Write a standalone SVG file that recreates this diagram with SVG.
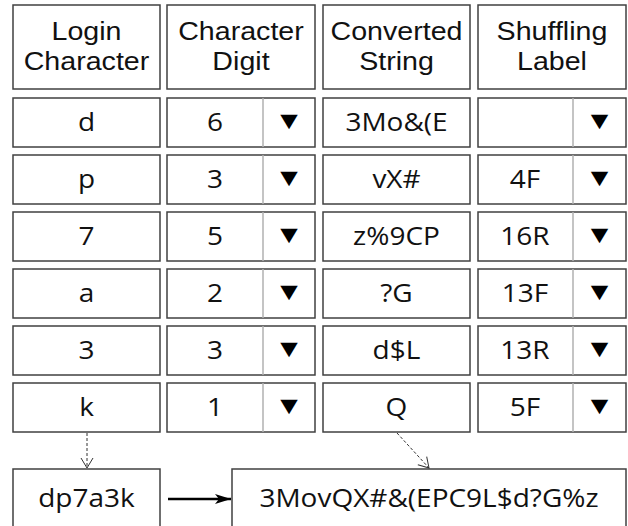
<svg xmlns="http://www.w3.org/2000/svg" width="628" height="526" viewBox="0 0 628 526">
<defs>
<style>
.box{fill:#fff;stroke:#404040;stroke-width:1.5}
.div{stroke:#b0b0b0;stroke-width:1.5}
.hd{font-family:"Liberation Sans",Arial,sans-serif;font-size:26px;fill:#111;text-anchor:middle;transform-box:fill-box;transform-origin:center;transform:scaleX(1.1)}
.tx{font-family:"Open Sans","Noto Sans",sans-serif;font-size:25px;fill:#111;text-anchor:middle;transform-box:fill-box;transform-origin:center;transform:scaleX(1.12)}
.tri{font-family:"DejaVu Sans",sans-serif;font-size:19px;fill:#000;text-anchor:middle;transform-box:fill-box;transform-origin:center;transform:scaleX(1.2)}
.dash{stroke:#333;stroke-width:1;stroke-dasharray:3 2;fill:none}
</style>
<marker id="open" viewBox="0 0 12 14" refX="11" refY="7" markerWidth="12" markerHeight="14" markerUnits="userSpaceOnUse" orient="auto">
<path d="M1,1 L11,7 L1,13" fill="none" stroke="#333" stroke-width="1"/>
</marker>
<marker id="solid" viewBox="0 0 16 10" refX="16" refY="5" markerWidth="16" markerHeight="10" markerUnits="userSpaceOnUse" orient="auto">
<path d="M0,0 L16,5 L0,10 L4,5 Z" fill="#000"/>
</marker>
</defs>
<rect width="628" height="526" fill="#fff"/>
<g id="headers">
<g id="h-login"><rect class="box" x="13" y="5" width="147" height="84"/><text class="hd" x="86.5" y="40">Login</text><text class="hd" x="86.5" y="70">Character</text></g>
<g id="h-digit"><rect class="box" x="167" y="5" width="148" height="84"/><text class="hd" x="241" y="40">Character</text><text class="hd" x="241" y="70">Digit</text></g>
<g id="h-conv"><rect class="box" x="323" y="5" width="147" height="84"/><text class="hd" x="396.5" y="40">Converted</text><text class="hd" x="396.5" y="70">String</text></g>
<g id="h-shuf"><rect class="box" x="478" y="5" width="148" height="84"/><text class="hd" x="552" y="40">Shuffling</text><text class="hd" x="552" y="70">Label</text></g>
</g>
<g id="row1">
<g id="login1"><rect class="box" x="13" y="98" width="147" height="49"/><text class="tx" x="86.5" y="131">d</text></g>
<g id="digit1"><rect class="box" x="167" y="98" width="148" height="49"/><line class="div" x1="263" y1="98" x2="263" y2="147"/><text class="tx" x="215" y="131">6</text><text class="tri" x="289" y="127.5">▼</text></g>
<g id="conv1"><rect class="box" x="323" y="98" width="147" height="49"/><text class="tx" x="396.5" y="131">3Mo&amp;(E</text></g>
<g id="shuf1"><rect class="box" x="478" y="98" width="148" height="49"/><line class="div" x1="573" y1="98" x2="573" y2="147"/><text class="tri" x="599.5" y="127.5">▼</text></g>
</g>
<g id="row2">
<g id="login2"><rect class="box" x="13" y="155" width="147" height="49"/><text class="tx" x="86.5" y="188">p</text></g>
<g id="digit2"><rect class="box" x="167" y="155" width="148" height="49"/><line class="div" x1="263" y1="155" x2="263" y2="204"/><text class="tx" x="215" y="188">3</text><text class="tri" x="289" y="184.5">▼</text></g>
<g id="conv2"><rect class="box" x="323" y="155" width="147" height="49"/><text class="tx" x="396.5" y="188">vX#</text></g>
<g id="shuf2"><rect class="box" x="478" y="155" width="148" height="49"/><line class="div" x1="573" y1="155" x2="573" y2="204"/><text class="tx" x="525" y="188">4F</text><text class="tri" x="599.5" y="184.5">▼</text></g>
</g>
<g id="row3">
<g id="login3"><rect class="box" x="13" y="212" width="147" height="49"/><text class="tx" x="86.5" y="245">7</text></g>
<g id="digit3"><rect class="box" x="167" y="212" width="148" height="49"/><line class="div" x1="263" y1="212" x2="263" y2="261"/><text class="tx" x="215" y="245">5</text><text class="tri" x="289" y="241.5">▼</text></g>
<g id="conv3"><rect class="box" x="323" y="212" width="147" height="49"/><text class="tx" x="396.5" y="245">z%9CP</text></g>
<g id="shuf3"><rect class="box" x="478" y="212" width="148" height="49"/><line class="div" x1="573" y1="212" x2="573" y2="261"/><text class="tx" x="525" y="245">16R</text><text class="tri" x="599.5" y="241.5">▼</text></g>
</g>
<g id="row4">
<g id="login4"><rect class="box" x="13" y="269" width="147" height="49"/><text class="tx" x="86.5" y="302">a</text></g>
<g id="digit4"><rect class="box" x="167" y="269" width="148" height="49"/><line class="div" x1="263" y1="269" x2="263" y2="318"/><text class="tx" x="215" y="302">2</text><text class="tri" x="289" y="298.5">▼</text></g>
<g id="conv4"><rect class="box" x="323" y="269" width="147" height="49"/><text class="tx" x="396.5" y="302">?G</text></g>
<g id="shuf4"><rect class="box" x="478" y="269" width="148" height="49"/><line class="div" x1="573" y1="269" x2="573" y2="318"/><text class="tx" x="525" y="302">13F</text><text class="tri" x="599.5" y="298.5">▼</text></g>
</g>
<g id="row5">
<g id="login5"><rect class="box" x="13" y="326" width="147" height="49"/><text class="tx" x="86.5" y="359">3</text></g>
<g id="digit5"><rect class="box" x="167" y="326" width="148" height="49"/><line class="div" x1="263" y1="326" x2="263" y2="375"/><text class="tx" x="215" y="359">3</text><text class="tri" x="289" y="355.5">▼</text></g>
<g id="conv5"><rect class="box" x="323" y="326" width="147" height="49"/><text class="tx" x="396.5" y="359">d$L</text></g>
<g id="shuf5"><rect class="box" x="478" y="326" width="148" height="49"/><line class="div" x1="573" y1="326" x2="573" y2="375"/><text class="tx" x="525" y="359">13R</text><text class="tri" x="599.5" y="355.5">▼</text></g>
</g>
<g id="row6">
<g id="login6"><rect class="box" x="13" y="383" width="147" height="49"/><text class="tx" x="86.5" y="416">k</text></g>
<g id="digit6"><rect class="box" x="167" y="383" width="148" height="49"/><line class="div" x1="263" y1="383" x2="263" y2="432"/><text class="tx" x="215" y="416">1</text><text class="tri" x="289" y="412.5">▼</text></g>
<g id="conv6"><rect class="box" x="323" y="383" width="147" height="49"/><text class="tx" x="396.5" y="416">Q</text></g>
<g id="shuf6"><rect class="box" x="478" y="383" width="148" height="49"/><line class="div" x1="573" y1="383" x2="573" y2="432"/><text class="tx" x="525" y="416">5F</text><text class="tri" x="599.5" y="412.5">▼</text></g>
</g>
<g id="login-string"><rect class="box" x="13" y="469" width="147" height="70"/><text class="tx" x="86.5" y="507">dp7a3k</text></g>
<g id="shuffled-string"><rect class="box" x="232" y="469" width="394" height="70"/><text class="tx" x="429" y="507">3MovQX#&amp;(EPC9L$d?G%z</text></g>
<g id="connectors">
<line class="dash" x1="87" y1="433" x2="87" y2="468" marker-end="url(#open)"/>
<line class="dash" x1="397" y1="433" x2="429" y2="468" marker-end="url(#open)"/>
<line x1="168" y1="499" x2="231" y2="499" stroke="#000" stroke-width="2.5" marker-end="url(#solid)"/>
</g>
</svg>
